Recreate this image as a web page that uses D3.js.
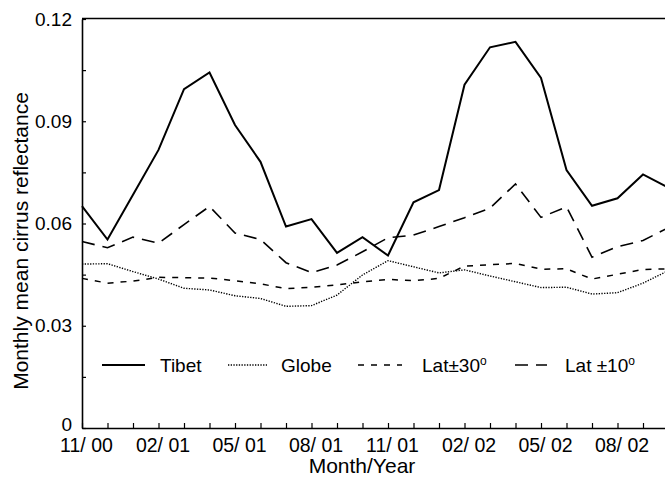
<html>
<head>
    <script src="https://d3js.org/d3.v7.min.js"></script>
    <style>
        body { margin: 0; background: #fff; }
        text { font-family: "Liberation Sans", Arial, Helvetica, sans-serif; fill: #000; }
    </style>
</head>
<body>

<script>
// months on the x axis
var months = ["11/00","12/00","01/01","02/01","03/01","04/01","05/01","06/01","07/01","08/01","09/01","10/01",
              "11/01","12/01","01/02","02/02","03/02","04/02","05/02","06/02","07/02","08/02","09/02","10/02"];
var tickLabels = {"11/00":"11/ 00","02/01":"02/ 01","05/01":"05/ 01","08/01":"08/ 01",
                  "11/01":"11/ 01","02/02":"02/ 02","05/02":"05/ 02","08/02":"08/ 02"};
var yTicks = [0, 0.03, 0.06, 0.09, 0.12];
var yMinor = [0.015, 0.045, 0.075, 0.105];

// monthly mean cirrus reflectance
var tibet = [0.0651, 0.0553, 0.0684, 0.0816, 0.0994, 0.1043, 0.0889, 0.0781, 0.0591, 0.0613, 0.0514, 0.0560,
             0.0506, 0.0662, 0.0698, 0.1007, 0.1117, 0.1133, 0.1027, 0.0757, 0.0652, 0.0674, 0.0744, 0.0705];
var globe = [0.0481, 0.0482, 0.0459, 0.0437, 0.0410, 0.0405, 0.0388, 0.0380, 0.0357, 0.0359, 0.0390, 0.0449,
             0.0491, 0.0473, 0.0455, 0.0464, 0.0446, 0.0429, 0.0412, 0.0413, 0.0393, 0.0397, 0.0425, 0.0462];
var lat30 = [0.0439, 0.0425, 0.0431, 0.0442, 0.0441, 0.0440, 0.0432, 0.0423, 0.0409, 0.0413, 0.0420, 0.0429,
             0.0436, 0.0432, 0.0439, 0.0475, 0.0479, 0.0483, 0.0466, 0.0467, 0.0437, 0.0451, 0.0465, 0.0467];
var lat10 = [0.0547, 0.0529, 0.0560, 0.0542, 0.0597, 0.0650, 0.0572, 0.0553, 0.0485, 0.0456, 0.0478, 0.0517,
             0.0558, 0.0566, 0.0591, 0.0617, 0.0645, 0.0716, 0.0618, 0.0649, 0.0501, 0.0532, 0.0550, 0.0588];

var legendNames = ["Tibet", "Globe", "Lat\u00b130", "Lat \u00b110"];

var w = 665;
var h = 477;
var padL = 82, padT = 19, padB = 428;

var xScale = d3.scalePoint().domain(months).range([padL, 668.5]);
var yScale = d3.scaleLinear().domain([0, 0.12]).range([padB, padT]);

var svg = d3.select('body').append('svg').attr('width', w).attr('height', h);

// series
var series = [
    {name: legendNames[0], values: tibet, width: 2, dash: null},
    {name: legendNames[1], values: globe, width: 1.4, dash: "1.3,1.4"},
    {name: legendNames[2], values: lat30, width: 1.5, dash: "6,7"},
    {name: legendNames[3], values: lat10, width: 1.6, dash: "13,8"}
];

var line = d3.line().x(function(d, i){ return xScale(months[i]); }).y(function(d){ return yScale(d); });

svg.append("g").selectAll("path").data(series).enter().append("path")
    .attr("fill", "none").attr("stroke", "#000")
    .attr("stroke-width", function(s){ return s.width; })
    .attr("stroke-dasharray", function(s){ return s.dash; })
    .attr("d", function(s){ return line(s.values); });

// frame top
svg.append("line").attr("x1", padL).attr("x2", w).attr("y1", padT - 0.5).attr("y2", padT - 0.5)
    .attr("stroke", "#000").attr("stroke-width", 1.6);

// axes
var yAxis = d3.axisLeft(yScale).tickValues(yTicks).tickSizeInner(-4).tickSizeOuter(0).tickPadding(10)
    .tickFormat(function(d){ return d === 0 ? "0" : d.toFixed(2); });
var yg = svg.append("g").attr("transform", "translate(" + padL + ",0)").call(yAxis);
yg.selectAll("text").style("font-size", "19px");
yg.selectAll(".tick").filter(function(d){ return d === 0; }).select("text").attr("y", -4);

var yMinorAxis = d3.axisLeft(yScale).tickValues(yMinor).tickSizeInner(-4).tickSizeOuter(0).tickFormat("");
svg.append("g").attr("transform", "translate(" + padL + ",0)").call(yMinorAxis).select(".domain").remove();

var xAxis = d3.axisBottom(xScale).tickSizeInner(-5).tickSizeOuter(0).tickPadding(10)
    .tickFormat(function(d){ return tickLabels[d] || ""; });
var xg = svg.append("g").attr("transform", "translate(0," + padB + ")").call(xAxis);
xg.selectAll("text").style("font-size", "19.5px").attr("dx", 4);

svg.selectAll(".domain").attr("stroke-width", 1.6);
svg.selectAll(".tick line").attr("stroke-width", 1.2);

// axis titles
svg.append("text").attr("x", 362).attr("y", 473).attr("text-anchor", "middle")
    .style("font-size", "21px").text("Month/Year");
svg.append("text").attr("transform", "translate(28,241) rotate(-90)").attr("text-anchor", "middle")
    .style("font-size", "21px").text("Monthly mean cirrus reflectance");

// legend
var legendX = [[102, 145, 160], [228, 267, 281], [358, 402, 422], [515, 547, 565]];
var lg = svg.append("g");
series.forEach(function(s, i){
    lg.append("line").attr("x1", legendX[i][0]).attr("x2", legendX[i][1]).attr("y1", 365).attr("y2", 365)
        .attr("stroke", "#000").attr("stroke-width", s.width).attr("stroke-dasharray", s.dash);
    var t = lg.append("text").attr("x", legendX[i][2]).attr("y", 372).style("font-size", "19px").text(s.name);
    if (i >= 2) {
        t.append("tspan").attr("dy", -7).style("font-size", "12px").text("o");
    }
});
</script>

</body>
</html>
